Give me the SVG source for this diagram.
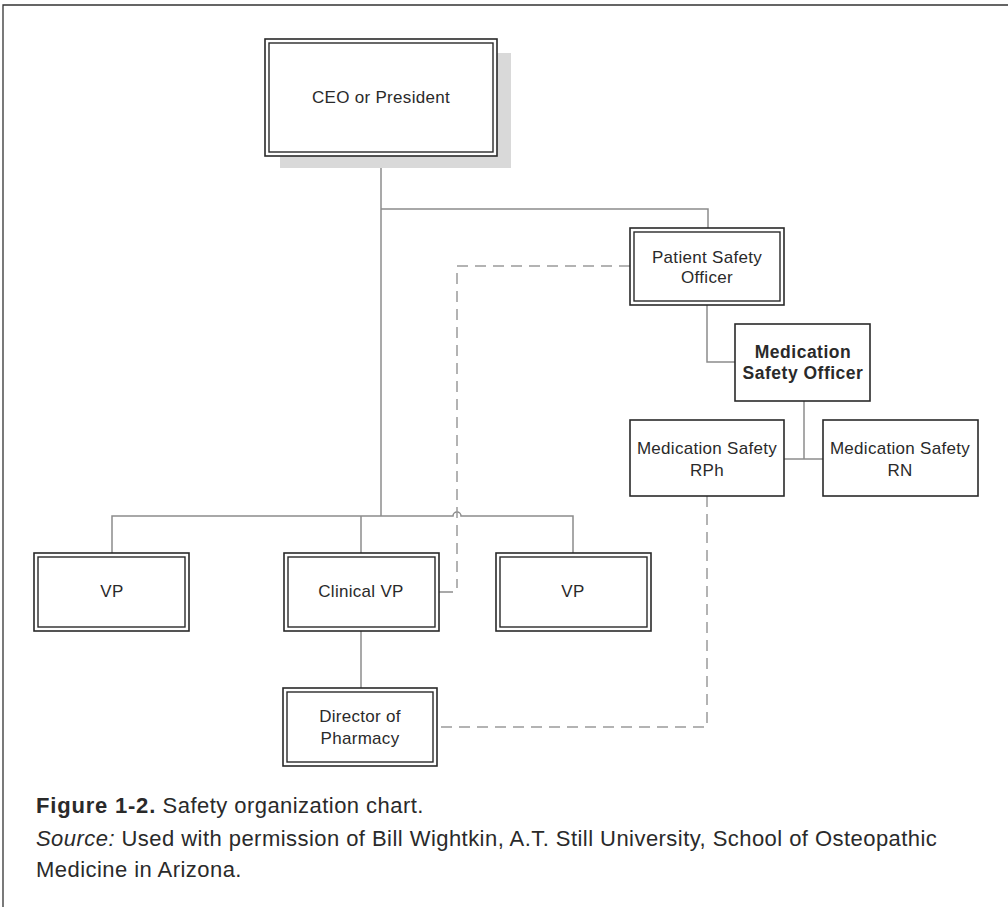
<svg xmlns="http://www.w3.org/2000/svg" width="1008" height="907" viewBox="0 0 1008 907">
<style>
.o{fill:#fff;stroke:#2a2a2a;stroke-width:1.6}
.i{fill:none;stroke:#2a2a2a;stroke-width:1.4}
.s{fill:#fff;stroke:#2a2a2a;stroke-width:1.6}
.c{fill:none;stroke:#8c8c8c;stroke-width:1.5}
.d{fill:none;stroke:#9a9a9a;stroke-width:1.5;stroke-dasharray:11 7}
text{font-family:"Liberation Sans",Arial,sans-serif;fill:#2a2a2a;text-anchor:middle}
.t{font-size:17px;letter-spacing:0.3px}
.b{font-size:17.5px;font-weight:bold;letter-spacing:0.5px}
.cap{font-size:22px;text-anchor:start;letter-spacing:0.45px}
</style>
<rect x="0" y="0" width="1008" height="907" fill="#fff"/>
<path d="M3,907 V5 H1008" fill="none" stroke="#333" stroke-width="1.3"/>
<g id="connectors">
<path class="c" d="M381,156 V516"/>
<path class="c" d="M381,209 H708 V228"/>
<path class="c" d="M112,553 V516 H453 A4,4 0 0 1 461,516 H573 V553"/>
<path class="c" d="M361,516 V553"/>
<path class="c" d="M361,631 V688"/>
<path class="c" d="M707,305 V362 H735"/>
<path class="c" d="M804,401 V459"/>
<path class="c" d="M784,459 H823"/>
<path class="c" d="M439,592 H453"/>
<path class="d" d="M630,266 H457 V588"/>
<path class="d" d="M707,496 V727 H437"/>
</g>
<g id="ceo">
<rect x="280" y="53" width="231" height="115" fill="#d9d9d9"/>
<rect class="o" x="265" y="39" width="232" height="117"/>
<rect class="i" x="269" y="43" width="224" height="109"/>
<text class="t" x="381" y="103">CEO or President</text>
</g>
<g id="patient-safety-officer">
<rect class="o" x="630" y="228" width="154" height="77"/>
<rect class="i" x="634" y="232" width="146" height="69"/>
<text class="t" x="707" y="263">Patient Safety</text>
<text class="t" x="707" y="283">Officer</text>
</g>
<g id="medication-safety-officer">
<rect class="s" x="735" y="324" width="135" height="77"/>
<text class="b" x="803" y="358">Medication</text>
<text class="b" x="803" y="379">Safety Officer</text>
</g>
<g id="med-safety-rph">
<rect class="s" x="630" y="420" width="154" height="76"/>
<text class="t" x="707" y="454">Medication Safety</text>
<text class="t" x="707" y="476">RPh</text>
</g>
<g id="med-safety-rn">
<rect class="s" x="823" y="420" width="155" height="76"/>
<text class="t" x="900" y="454">Medication Safety</text>
<text class="t" x="900" y="476">RN</text>
</g>
<g id="vp-left">
<rect class="o" x="34" y="553" width="155" height="78"/>
<rect class="i" x="38" y="557" width="147" height="70"/>
<text class="t" x="112" y="597">VP</text>
</g>
<g id="clinical-vp">
<rect class="o" x="284" y="553" width="155" height="78"/>
<rect class="i" x="288" y="557" width="147" height="70"/>
<text class="t" x="361" y="597">Clinical VP</text>
</g>
<g id="vp-right">
<rect class="o" x="496" y="553" width="155" height="78"/>
<rect class="i" x="500" y="557" width="147" height="70"/>
<text class="t" x="573" y="597">VP</text>
</g>
<g id="director-of-pharmacy">
<rect class="o" x="283" y="688" width="154" height="78"/>
<rect class="i" x="287" y="692" width="146" height="70"/>
<text class="t" x="360" y="722">Director of</text>
<text class="t" x="360" y="744">Pharmacy</text>
</g>
<g id="caption">
<text class="cap" x="36" y="813"><tspan font-weight="bold" letter-spacing="0.8">Figure 1-2.</tspan> Safety organization chart.</text>
<text class="cap" x="36" y="846"><tspan font-style="italic">Source:</tspan> Used with permission of Bill Wightkin, A.T. Still University, School of Osteopathic</text>
<text class="cap" x="36" y="877">Medicine in Arizona.</text>
</g>
</svg>
